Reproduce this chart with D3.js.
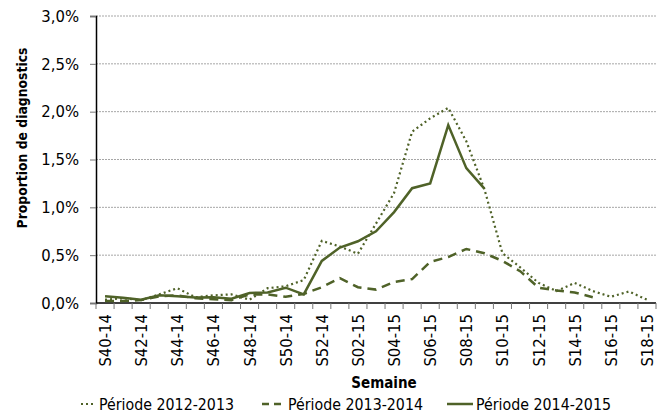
<!DOCTYPE html>
<html>
<head>
<meta charset="utf-8">
<script src="https://cdn.jsdelivr.net/npm/d3@7"></script>
<style>
  body { margin: 0; background: #fff; }
  text { font-family: "DejaVu Sans Condensed", "DejaVu Sans", sans-serif; font-stretch: condensed; fill: #000; }
</style>
</head>
<body>
<div id="chart"></div>
<script>
// weeks (S40-14 .. S18-15)
const weeks = ["S40-14","S41-14","S42-14","S43-14","S44-14","S45-14","S46-14","S47-14","S48-14","S49-14",
  "S50-14","S51-14","S52-14","S01-15","S02-15","S03-15","S04-15","S05-15","S06-15","S07-15",
  "S08-15","S09-15","S10-15","S11-15","S12-15","S13-15","S14-15","S15-15","S16-15","S17-15","S18-15"]

// proportion of diagnoses, in %
const p2012 = [0.035,0.05,0.03,0.09,0.155,0.06,0.08,0.09,0.035,0.155,0.175,0.24,0.65,0.59,0.515,0.83,
  1.15,1.79,1.93,2.04,1.69,1.19,0.52,0.37,0.21,0.125,0.21,0.125,0.065,0.12,0.035]
const p2013 = [0.02,0.02,0.03,0.07,0.08,0.05,0.04,0.03,0.09,0.09,0.065,0.095,0.165,0.26,0.165,0.14,
  0.22,0.25,0.43,0.48,0.565,0.52,0.44,0.33,0.16,0.13,0.11,0.06]
const p2014 = [0.07,0.055,0.035,0.08,0.07,0.057,0.06,0.045,0.105,0.11,0.16,0.09,0.44,0.58,0.645,0.75,
  0.95,1.2,1.25,1.86,1.41,1.195]

const yTicks = [0, 0.5, 1, 1.5, 2, 2.5, 3]
const legendLabels = ["Période 2012-2013", "Période 2013-2014", "Période 2014-2015"]

const color = "#4F6228"
let margin = { top: 16, right: 7, bottom: 112, left: 96 }
let width = 663 - margin.left - margin.right
let height = 415 - margin.top - margin.bottom

let svg = d3.select("#chart")
    .append("svg")
    .attr("width", 663)
    .attr("height", 415)

let g = svg.append("g")
    .attr("transform", "translate(" + margin.left + "," + margin.top + ")")

let x = d3.scaleBand()
    .domain(weeks)
    .range([0, width])

let y = d3.scaleLinear()
    .domain([0, 3])
    .range([height, 0])

// gridlines
g.append("g")
    .selectAll("line")
    .data(yTicks.slice(1))
    .enter()
    .append("line")
    .attr("x1", 0)
    .attr("x2", width)
    .attr("y1", d => y(d))
    .attr("y2", d => y(d))
    .attr("stroke", "#a6a6a6")
    .attr("stroke-width", 1)
    .attr("stroke-dasharray", "2,1")

// y axis
let yAxis = g.append("g")
    .call(d3.axisLeft(y).tickValues(yTicks).tickSize(6)
        .tickFormat(d => d3.format(".1f")(d).replace(".", ",") + "%"))
yAxis.select(".domain").attr("stroke", "#000").attr("stroke-width", 1.5)
yAxis.selectAll(".tick line").attr("stroke", "#777")
yAxis.selectAll(".tick text").attr("x", -17).style("font-size", "16.5px")

// x axis with ticks at band boundaries
let xAxis = g.append("g")
    .attr("transform", "translate(0," + height + ")")
xAxis.append("line")
    .attr("x1", 0).attr("x2", width)
    .attr("stroke", "#000").attr("stroke-width", 1.5)
xAxis.selectAll(".tk")
    .data(weeks.concat(["end"]))
    .enter()
    .append("line")
    .attr("x1", (d, i) => i * x.step())
    .attr("x2", (d, i) => i * x.step())
    .attr("y1", 0).attr("y2", 6)
    .attr("stroke", "#777")
xAxis.selectAll(".lbl")
    .data(weeks.filter((d, i) => i % 2 === 0 && i !== 13 ? true : i === 14))
    .enter()
    .append("text")
    .attr("transform", d => "translate(" + (x(d) + x.bandwidth() / 2 + 6) + ",11) rotate(-90)")
    .attr("text-anchor", "end")
    .style("font-size", "16.5px")
    .text(d => d)

// series
let line = d3.line()
    .x((d, i) => x(weeks[i]) + x.bandwidth() / 2)
    .y(d => y(d))

const series = [
  { values: p2012, dash: "2,3", w: 2.2 },
  { values: p2013, dash: "9,6", w: 2.5 },
  { values: p2014, dash: null, w: 2.5 }
]

g.selectAll(".series")
    .data(series)
    .enter()
    .append("path")
    .attr("fill", "none")
    .attr("stroke", color)
    .attr("stroke-width", d => d.w)
    .attr("stroke-dasharray", d => d.dash)
    .attr("d", d => line(d.values))

// axis titles
svg.append("text")
    .attr("transform", "translate(27,138) rotate(-90)")
    .attr("text-anchor", "middle")
    .style("font-size", "13.8px")
    .style("font-weight", "bold")
    .text("Proportion de diagnostics")

svg.append("text")
    .attr("x", margin.left + width / 2 + 8)
    .attr("y", 388)
    .attr("text-anchor", "middle")
    .style("font-size", "15px")
    .style("font-weight", "bold")
    .text("Semaine")

// legend
const legendX = [81, 262, 447]
const swatchW = [15, 19, 26]
const textGap = [3, 7, 3]
let legend = svg.selectAll(".legend")
    .data(series)
    .enter()
    .append("g")
    .attr("transform", (d, i) => "translate(" + legendX[i] + ",404)")

legend.append("line")
    .attr("x1", 0)
    .attr("x2", (d, i) => swatchW[i])
    .attr("y1", 0).attr("y2", 0)
    .attr("stroke", color)
    .attr("stroke-width", d => d.w)
    .attr("stroke-dasharray", (d, i) => i === 1 ? "7,5" : d.dash)

legend.append("text")
    .attr("x", (d, i) => swatchW[i] + textGap[i])
    .attr("y", 6)
    .style("font-size", "15.8px")
    .text((d, i) => legendLabels[i])
</script>
</body>
</html>
